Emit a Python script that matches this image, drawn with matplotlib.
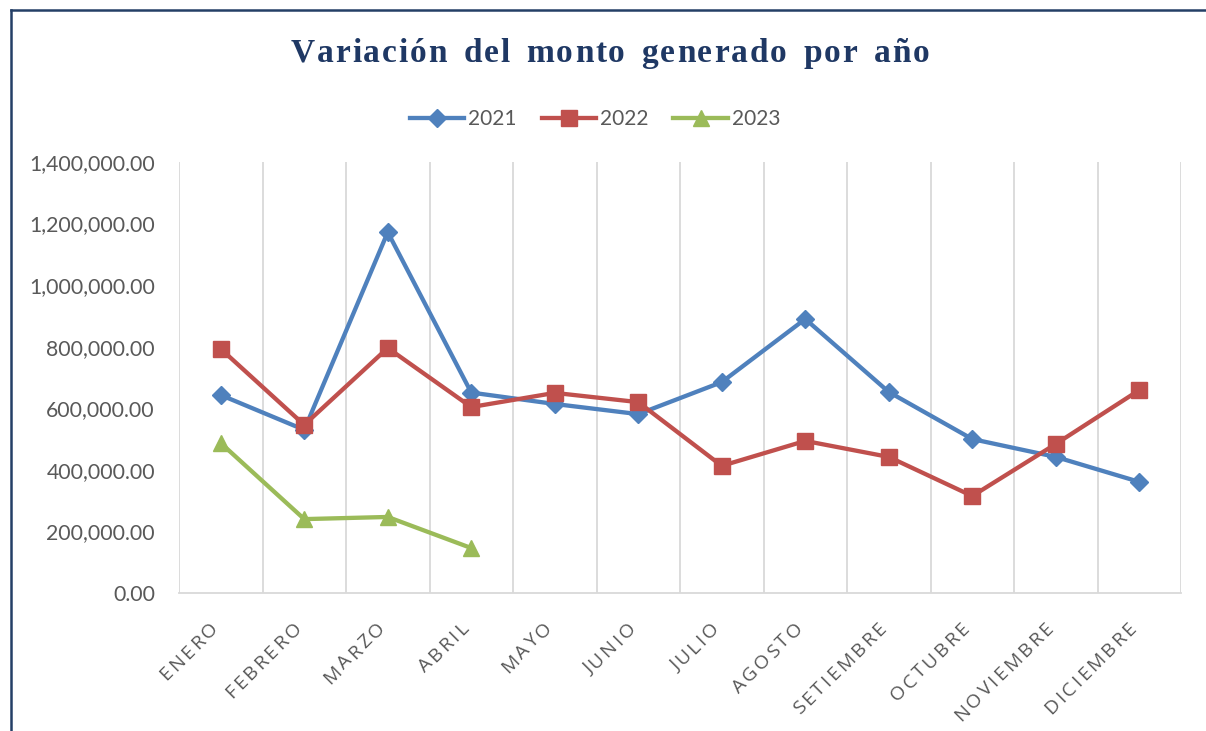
import matplotlib
matplotlib.use('Agg')
import matplotlib.pyplot as plt
from matplotlib.font_manager import FontProperties
from matplotlib.ticker import FuncFormatter, MultipleLocator
from matplotlib.transforms import IdentityTransform
from matplotlib.lines import Line2D
import numpy as np

meses = ['ENERO', 'FEBRERO', 'MARZO', 'ABRIL', 'MAYO', 'JUNIO', 'JULIO',
         'AGOSTO', 'SETIEMBRE', 'OCTUBRE', 'NOVIEMBRE', 'DICIEMBRE']
monto_2021 = [643000, 530000, 1172000, 651000, 614000, 581000, 685000,
              890000, 653000, 500000, 442000, 361000]
monto_2022 = [793000, 546000, 796000, 604000, 650000, 620000, 413000,
              494000, 442000, 315000, 484000, 659000]
monto_2023 = [487000, 240000, 247000, 146000]
anios = ['2021', '2022', '2023']

W, H = 1206, 731
GRAY = '#595959'
NAVY = '#1F3864'

fig = plt.figure(figsize=(W / 100, H / 100), dpi=100)
r = fig.canvas.get_renderer()


def char_width(c, fp):
  a = r.get_text_width_height_descent('|' + c + '|', fp, ismath=False)[0]
  b = r.get_text_width_height_descent('||', fp, ismath=False)[0]
  return a - b


def spaced(s, x, y, fp, color, gap, angle=0, align='left', word_gap=0):
  # x, y in pixels from top-left, anchored on the baseline
  ws = [char_width(c, fp) + (word_gap if c == ' ' else 0) for c in s]
  total = sum(ws) + gap * (len(s) - 1)
  ux, uy = np.cos(np.radians(angle)), np.sin(np.radians(angle))
  px, py = x, H - y
  if align == 'center':
    px, py = px - ux * total / 2, py - uy * total / 2
  elif align == 'right':
    px, py = px - ux * total, py - uy * total
  for c, w in zip(s, ws):
    if c != ' ':
      fig.text(px, py, c, fontproperties=fp, color=color, rotation=angle,
               rotation_mode='anchor', ha='left', va='baseline',
               transform=IdentityTransform())
    px += ux * (w + gap)
    py += uy * (w + gap)


x0, x1, y0, y1 = 179, 1181, 162, 593
ax = fig.add_axes([x0 / W, 1 - y1 / H, (x1 - x0) / W, (y1 - y0) / H])
x = np.arange(12)
ax.plot(x, monto_2021, color='#4F81BD', lw=3.1, marker='D', ms=9.5, label=anios[0], zorder=3)
ax.plot(x, monto_2022, color='#C0504D', lw=3.1, marker='s', ms=12, label=anios[1], zorder=3)
ax.plot(x[:len(monto_2023)], monto_2023, color='#9BBB59', lw=3.1, marker='^', ms=11.5,
        label=anios[2], zorder=3)

ax.set_xlim(-0.5, 11.5)
ax.set_ylim(0, 1400000)
ax.yaxis.set_major_locator(MultipleLocator(200000))
ax.yaxis.set_major_formatter(FuncFormatter(lambda v, p: f'{v:,.2f}'))
for b in np.arange(-0.5, 12, 1):
  ax.axvline(b, color='#D9D9D9', lw=1.3, zorder=0)
for s in ['top', 'right', 'left']:
  ax.spines[s].set_visible(False)
ax.spines['bottom'].set_color('#D9D9D9')
ax.spines['bottom'].set_linewidth(1.3)
ax.set_xticks(x)
ax.set_xticklabels([])
ax.tick_params(length=0)
ax.tick_params(axis='y', pad=17.3)
for t in ax.get_yticklabels():
  t.set_fontfamily('Lato')
  t.set_fontsize(15.3)
  t.set_color(GRAY)

# legend
leg = fig.legend(loc='center', bbox_to_anchor=(595 / W, 1 - 119 / H), ncol=3, frameon=False,
                 prop=FontProperties(family='Lato', size=15), handlelength=2.6,
                 handletextpad=0.2, columnspacing=1.2)
for t in leg.get_texts():
  t.set_color(GRAY)

# title
fp_title = FontProperties(family='Liberation Serif', weight='bold', size=24)
spaced('Variación del monto generado por año', 610, 62, fp_title, NAVY, 1.9,
       align='center', word_gap=4.5)

# x labels
fp_x = FontProperties(family='Open Sans', size=14)
for i, m in enumerate(meses):
  tx = ax.transData.transform((i, 0))[0]
  spaced(m, tx - 2, 629, fp_x, GRAY, 2.6, angle=45, align='right')

# frame
fig.add_artist(Line2D([11 / W, 11 / W], [0, 1 - 10 / H], color='#243F66', lw=1.8))
fig.add_artist(Line2D([11 / W, 1], [1 - 10 / H, 1 - 10 / H], color='#243F66', lw=1.8))

fig.savefig('out.png', dpi=100)
